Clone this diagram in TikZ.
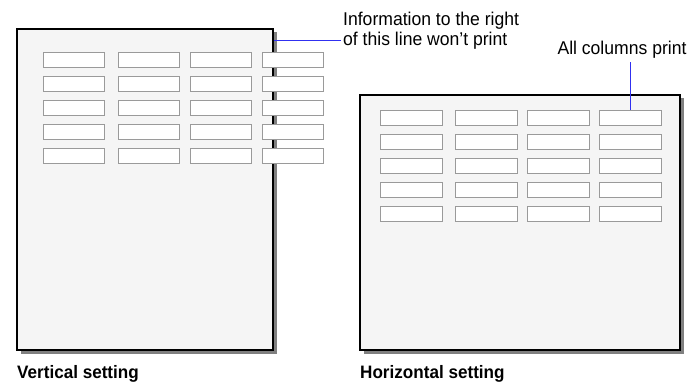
\documentclass[tikz,border=0pt]{standalone}
\usepackage{fontspec}
\setmainfont{Liberation Sans}[FakeStretch=0.95]
\usepackage{xcolor}
\usepackage{tikz}
\usetikzlibrary{shadows,calc}
\definecolor{pagefill}{HTML}{F5F5F5}
\definecolor{cellline}{HTML}{9A9A9A}
\definecolor{cutblue}{HTML}{3030F0}

\begin{document}
\begin{tikzpicture}[x=1pt, y=-1pt,
      page/.style={draw=black, line width=1.2pt, fill=pagefill, inner sep=0pt,
                   drop shadow={shadow xshift=3.5pt, shadow yshift=-3.5pt, fill=black!50, opacity=1}},
      cell/.style={draw=cellline, line width=0.8pt, fill=white, inner sep=0pt,
                   minimum width=61pt, minimum height=15pt},
      note/.style={inner sep=0pt, font=\fontsize{18.5}{20.5}\selectfont, align=left},
      caption/.style={inner sep=0pt, font=\fontsize{18}{20}\selectfont\bfseries},
      lead/.style={cutblue, line width=1pt}]
    \useasboundingbox (0,0) rectangle (696,385);
    \node[page, minimum width=256pt, minimum height=321pt] (vpage) at (145,189.5) {};
    \node[page, minimum width=320pt, minimum height=255pt] (hpage) at (520,222.5) {};
    \foreach \r in {1,...,5} {
      \foreach \c/\x in {1/73.5, 2/148.5, 3/220.5, 4/292.5}
        \node[cell] (vc-\r-\c) at (\x, 59.5+24*\r-24) {};
      \foreach \c/\x in {1/411, 2/486, 3/558, 4/630}
        \node[cell, minimum width=62pt] (hc-\r-\c) at (\x, 117.5+24*\r-24) {};
    }
    \node[note, anchor=north west] (info) at (343,11.5)
      {Information to the right\\of this line won't print};
    \node[note, anchor=base] (allcols) at (622,55) {All columns print};
    \coordinate (cut) at (vpage.east |- 0,41);
    \draw[lead] (cut) -- ($(cut -| info.west)+(-2,0)$);
    \draw[lead] (hc-1-4.north) -- ($(hc-1-4.north |- allcols.south)+(0,3)$);
    \node[caption, anchor=base west] (vcap) at (17,378) {Vertical setting};
    \node[caption, anchor=base west] (hcap) at (360,378) {Horizontal setting};
  \end{tikzpicture}
\end{document}
